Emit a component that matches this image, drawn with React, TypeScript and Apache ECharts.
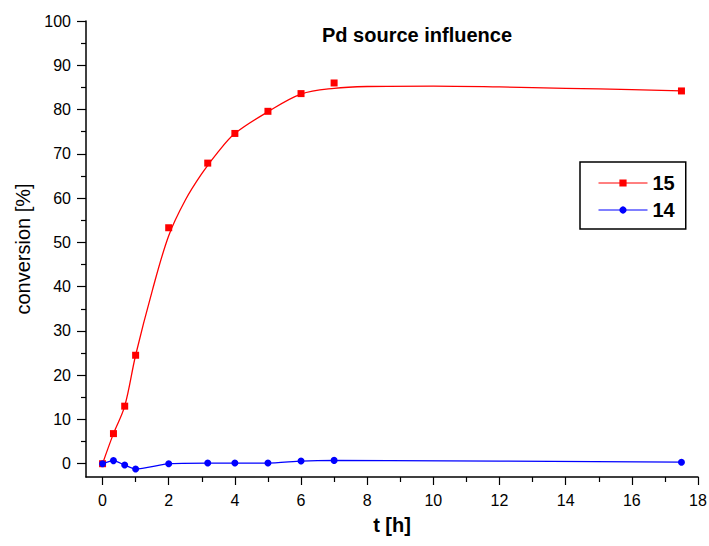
import React, { useEffect, useRef } from "react";
import * as echarts from "echarts";

const tHours = [0, 0.33, 0.67, 1, 2, 3.18, 4, 5, 6, 7, 17.5];
const conv15 = [0, 6.8, 13.0, 24.5, 53.3, 67.9, 74.6, 79.6, 83.6, 86.0, 84.2];
const conv14 = [0, 0.7, -0.3, -1.2, 0, 0.15, 0.15, 0.15, 0.6, 0.75, 0.35];

// Fitted curve for 15 as drawn in the picture
const fitT = [0, 0.33, 0.67, 1, 1.5, 2, 2.5, 3, 3.5, 4, 5, 6, 7, 8, 10, 12, 14, 16, 17.5];
const fit15 = [0, 6.8, 13.0, 24.5, 39.0, 51.5, 59.5, 65.5, 70.5, 74.6, 79.5, 83.5, 84.8, 85.2, 85.3, 85.1, 84.8, 84.5, 84.2];

// Tick labels
const xMajorTicks = [0, 2, 4, 6, 8, 10, 12, 14, 16, 18];
const xMinorTicks = [1, 3, 5, 7, 9, 11, 13, 15, 17];
const yMajorTicks = [0, 10, 20, 30, 40, 50, 60, 70, 80, 90, 100];
const yMinorTicks = [5, 15, 25, 35, 45, 55, 65, 75, 85, 95];

const FONT = "'Liberation Sans', Arial, sans-serif";

const pairs = (xs: number[], ys: number[]) => xs.map((x, i) => [x, ys[i]]);

export default function App() {
  const ref = useRef<HTMLDivElement>(null);
  useEffect(() => {
    if (!ref.current) return;
    const chart = echarts.init(ref.current, undefined, { renderer: "svg" });
    const axisLine = { show: true, onZero: false, lineStyle: { color: "#000", width: 1.5 } };
    const hiddenLine = { show: false, onZero: false };
    chart.setOption({
      animation: false,
      backgroundColor: "#fff",
      textStyle: { fontFamily: FONT },
      title: {
        text: "Pd source influence",
        left: 322,
        top: 25,
        padding: 0,
        textStyle: { fontFamily: FONT, fontSize: 20, fontWeight: "bold", color: "#000" },
      },
      legend: {
        data: ["15", "14"],
        orient: "vertical",
        left: 580,
        top: 162,
        padding: [11, 11, 9, 18],
        itemWidth: 49,
        itemHeight: 9,
        itemGap: 7,
        borderColor: "#000",
        borderWidth: 1.5,
        backgroundColor: "#fff",
        lineStyle: { opacity: 1, width: 1 },
        textStyle: { fontFamily: FONT, fontSize: 20, fontWeight: "bold", color: "#000" },
      },
      grid: { left: 86, right: 11, top: 21, bottom: 69, outerBoundsMode: "none" },
      xAxis: [
        {
          type: "value",
          min: -0.5,
          max: 18,
          position: "bottom",
          axisLine,
          splitLine: { show: false },
          axisTick: { show: true, customValues: xMajorTicks, length: 8, lineStyle: { color: "#000", width: 1.2 } },
          axisLabel: { customValues: xMajorTicks, fontSize: 16, color: "#000", margin: 15, fontFamily: FONT },
          name: "t [h]",
          nameLocation: "middle",
          nameGap: 38,
          nameTextStyle: { fontFamily: FONT, fontSize: 20, fontWeight: "bold", color: "#000" },
        },
        {
          type: "value",
          min: -0.5,
          max: 18,
          position: "bottom",
          axisLine: hiddenLine,
          splitLine: { show: false },
          axisTick: { show: true, customValues: xMinorTicks, length: 5, lineStyle: { color: "#000", width: 1.2 } },
          axisLabel: { show: false },
        },
      ],
      yAxis: [
        {
          type: "value",
          min: -3,
          max: 100,
          position: "left",
          axisLine,
          splitLine: { show: false },
          axisTick: { show: true, customValues: yMajorTicks, length: 9, lineStyle: { color: "#000", width: 1.2 } },
          axisLabel: { customValues: yMajorTicks, fontSize: 16, color: "#000", margin: 15, fontFamily: FONT },
          name: "conversion [%]",
          nameLocation: "middle",
          nameRotate: 90,
          nameGap: 47,
          nameTextStyle: { fontFamily: FONT, fontSize: 20, color: "#000" },
        },
        {
          type: "value",
          min: -3,
          max: 100,
          position: "left",
          axisLine: hiddenLine,
          splitLine: { show: false },
          axisTick: { show: true, customValues: yMinorTicks, length: 5, lineStyle: { color: "#000", width: 1.2 } },
          axisLabel: { show: false },
        },
      ],
      series: [
        {
          name: "15 fit",
          type: "line",
          data: pairs(fitT, fit15),
          smooth: 0.35,
          showSymbol: false,
          silent: true,
          lineStyle: { color: "#ff0000", width: 1.3 },
          itemStyle: { color: "#ff0000" },
          z: 2,
        },
        {
          name: "15",
          type: "line",
          data: pairs(tHours, conv15),
          symbol: "rect",
          symbolSize: 7,
          itemStyle: { color: "#ff0000" },
          lineStyle: { color: "#ff0000", width: 1, opacity: 0 },
          z: 3,
        },
        {
          name: "14",
          type: "line",
          data: pairs(tHours, conv14),
          symbol: "circle",
          symbolSize: 7,
          smooth: 0.2,
          itemStyle: { color: "#0000ff" },
          lineStyle: { color: "#0000ff", width: 1.3 },
          z: 4,
        },
      ],
    });
    return () => chart.dispose();
  }, []);
  return (
    <div
      ref={ref}
      style={{ position: "fixed", left: 0, top: 0, width: 709, height: 546, background: "#fff" }}
    />
  );
}
